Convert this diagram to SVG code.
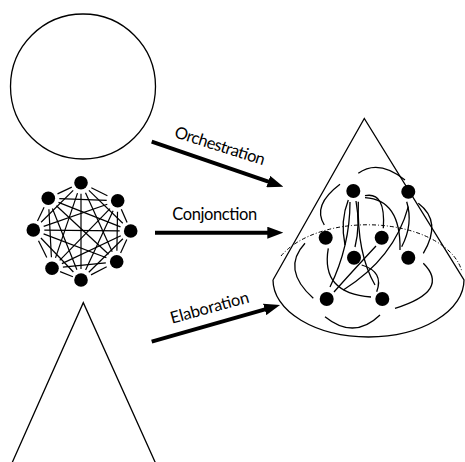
<svg xmlns="http://www.w3.org/2000/svg" width="465" height="462" viewBox="0 0 465 462">
<style>
.ol{fill:none;stroke:#000;stroke-width:1.3}
.nd{fill:#000}
.ch{stroke:#000;stroke-width:1.2;fill:none}
.arc{fill:none;stroke:#000;stroke-width:1.3}
.arr{stroke:#000;stroke-width:4;fill:none}
.lbl{font-family:Lato,"Liberation Sans",sans-serif;font-size:16.5px;fill:#000}
</style>
<defs>
<marker id="ah" markerUnits="userSpaceOnUse" viewBox="0 0 16 12" refX="4" refY="6" markerWidth="16" markerHeight="12" orient="auto">
<path d="M0,0 L16,6 L0,12 z" fill="#000"/>
</marker>
</defs>
<rect width="465" height="462" fill="#fff"/>

<g id="circle-node">
<circle class="ol" cx="83" cy="86.5" r="72.5"/>
</g>

<g id="network-node">
<g class="ch">
<line x1="91.3" y1="187.7" x2="107.4" y2="195.7"/>
<line x1="121.3" y1="209.2" x2="127.1" y2="222.5"/>
<line x1="126.8" y1="239.6" x2="120.6" y2="253.1"/>
<line x1="106.7" y1="266.8" x2="91.0" y2="274.9"/>
<line x1="72.9" y1="276.7" x2="60.1" y2="271.6"/>
<line x1="46.8" y1="257.6" x2="38.5" y2="240.7"/>
<line x1="37.5" y1="221.1" x2="44.1" y2="207.2"/>
<line x1="57.5" y1="193.9" x2="71.8" y2="187.1"/>
<line x1="88.9" y1="190.4" x2="122.8" y2="223.3"/>
<line x1="117.5" y1="211.7" x2="116.9" y2="250.7"/>
<line x1="122.9" y1="238.7" x2="88.8" y2="272.3"/>
<line x1="105.8" y1="262.8" x2="62.9" y2="267.2"/>
<line x1="73.4" y1="272.0" x2="40.9" y2="238.0"/>
<line x1="51.4" y1="257.3" x2="48.9" y2="209.3"/>
<line x1="41.1" y1="222.3" x2="73.2" y2="190.4"/>
<line x1="59.3" y1="198.7" x2="106.7" y2="200.3"/>
<line x1="85.5" y1="192.7" x2="112.2" y2="251.7"/>
<line x1="113.1" y1="210.7" x2="85.6" y2="270.0"/>
<line x1="120.8" y1="235.7" x2="61.9" y2="263.6"/>
<line x1="106.4" y1="257.8" x2="43.6" y2="233.9"/>
<line x1="76.9" y1="269.8" x2="52.4" y2="208.5"/>
<line x1="55.5" y1="257.9" x2="77.5" y2="193.1"/>
<line x1="43.7" y1="226.4" x2="107.3" y2="204.3"/>
<line x1="58.5" y1="202.4" x2="120.5" y2="226.9"/>
<line x1="81" y1="193.7" x2="81" y2="269"/>
<line x1="110.0" y1="208.6" x2="59.7" y2="260.4"/>
<line x1="119.7" y1="230.9" x2="44.3" y2="230.1"/>
<line x1="108.6" y1="254.2" x2="56.4" y2="205.8"/>
</g>
<circle class="nd" cx="81" cy="182.7" r="6.8"/>
<circle class="nd" cx="117.7" cy="200.7" r="6.8"/>
<circle class="nd" cx="130.7" cy="231" r="6.8"/>
<circle class="nd" cx="116.7" cy="261.7" r="6.8"/>
<circle class="nd" cx="81" cy="280" r="6.8"/>
<circle class="nd" cx="52" cy="268.3" r="6.8"/>
<circle class="nd" cx="33.3" cy="230" r="6.8"/>
<circle class="nd" cx="48.3" cy="198.3" r="6.8"/>
</g>

<g id="triangle-node">
<path class="ol" d="M12,463 L83.3,302.7 L155.5,463"/>
</g>

<g id="cone-node">
<path class="ol" d="M273,280 L364.3,118.5 L464,280 A95.5,57 0 0 1 273,280"/>
<path d="M281,256 A95.5,54.5 0 0 1 462,272" fill="none" stroke="#000" stroke-width="1" stroke-dasharray="4,2,1,2"/>
<g class="arc">
<path d="M358.3,173.3 Q378.4,158.8 405,180"/>
<path d="M340,184.3 Q311.9,205.4 324.3,225"/>
<path d="M348.3,200 Q340,220.9 345,245"/>
<path d="M356,201 Q360.5,225.5 355,247"/>
<path d="M350,202 Q350,246 330,287"/>
<path d="M358.3,201.7 Q356.8,253.3 375,285"/>
<path d="M365,195.7 Q385.9,191.4 383.3,228.3"/>
<path d="M365,197.7 Q400.9,199.6 400,250"/>
<path d="M408.3,206.7 Q394.2,258.3 343.3,290"/>
<path d="M406.7,201.7 Q413.5,224 401.7,246.7"/>
<path d="M418.3,203.3 Q442.6,221.7 423.3,253.3"/>
<path d="M305,243.3 Q280.9,269.2 313.3,298.3"/>
<path d="M328.3,248.3 Q320.4,293.4 371,297"/>
<path d="M361.7,265 Q384.2,271.7 376.7,291.7"/>
<path d="M334,292 Q349,275 376,246"/>
<path d="M423.3,263.3 Q450.9,290.8 395,308.3"/>
<path d="M325,316.7 Q354.1,340.2 380,315"/>
</g>
<circle class="nd" cx="353.3" cy="191" r="7"/>
<circle class="nd" cx="408.3" cy="191.7" r="7"/>
<circle class="nd" cx="325.7" cy="237.7" r="7"/>
<circle class="nd" cx="381.7" cy="237.7" r="7"/>
<circle class="nd" cx="354" cy="257.7" r="7"/>
<circle class="nd" cx="408.3" cy="257.7" r="7"/>
<circle class="nd" cx="326.7" cy="299" r="7"/>
<circle class="nd" cx="382.3" cy="299" r="7"/>
</g>

<g id="connectors">
<line class="arr" x1="151.7" y1="141.7" x2="272" y2="182.8" marker-end="url(#ah)"/>
<line class="arr" x1="155" y1="232.7" x2="271.3" y2="232.7" marker-end="url(#ah)"/>
<line class="arr" x1="151.7" y1="341.7" x2="268.5" y2="308.3" marker-end="url(#ah)"/>
<text class="lbl" text-anchor="middle" textLength="94" transform="translate(218.3,151.2) rotate(17.5)">Orchestration</text>
<text class="lbl" text-anchor="middle" textLength="85" x="214.8" y="219.5">Conjonction</text>
<text class="lbl" text-anchor="middle" textLength="81" transform="translate(211,313) rotate(-15.5)">Elaboration</text>
</g>
</svg>
